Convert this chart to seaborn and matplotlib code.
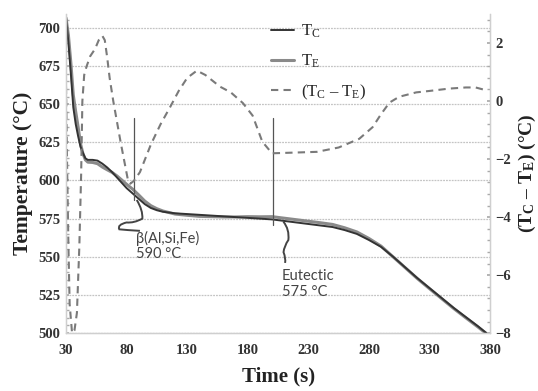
import numpy as np
import pandas as pd
import seaborn as sns
import matplotlib.pyplot as plt
from matplotlib.path import Path
from matplotlib.patches import PathPatch
from matplotlib.ticker import MultipleLocator

# cooling curves (time in s, temperature in degC)
time_s = [30, 32, 34, 36, 38, 40, 42, 44, 46, 48, 52, 56, 60, 64, 68, 72, 76, 80, 85, 90,
          95, 100, 105, 110, 120, 130, 140, 150, 160, 170, 180, 190, 200, 210, 220, 230,
          240, 250, 260, 270, 280, 290, 300, 310, 320, 330, 340, 350, 360, 370, 377]
t_c = [707, 690, 670, 648, 637, 629, 622, 618, 614.5, 613.5, 613.5, 613, 611, 608.5, 605.5,
       602, 598.5, 595, 591.5, 588, 584.5, 582, 580.5, 579.5, 578.5, 578, 577.5, 577, 576.5,
       576, 575.5, 575, 574.5, 573.5, 572.5, 571.5, 570.5, 569.5, 567.5, 565, 561, 556.5,
       550, 543, 536, 529.5, 523, 516.5, 510.5, 504.5, 500]
t_e = [706.5, 695, 677, 656, 645, 635, 624, 617.5, 613.5, 612, 611.8, 611, 608.8, 607, 605.3,
       603, 600.3, 597.5, 594.3, 590.5, 586.5, 583.5, 581.5, 580, 578, 577.2, 576.5, 576.3,
       576.1, 576.1, 576.3, 576.2, 576.3, 575.3, 574.3, 573.3, 572.3, 571.2, 569, 566.3, 562,
       557, 549.9, 542.8, 535.7, 529.1, 522.6, 516.1, 510, 504, 499.6]

# difference curve (T_C - T_E)
diff_time = [30, 31, 32, 33, 35, 37, 39, 41, 42.5, 43.5, 45, 47, 50, 54, 57, 60, 62, 64, 66,
             69, 75, 81, 83, 86, 91, 100, 108, 116, 123, 130, 138, 145, 157, 166, 176, 184,
             192, 200, 215, 237, 255, 272, 283, 290, 297, 305, 319, 330, 346, 360, 368, 377]
diff = [0.5, -2.5, -5.0, -7.0, -8.0, -7.9, -7.3, -5.0, -2.5, 0.0, 0.9, 1.2, 1.55, 1.8, 2.1,
        2.25, 2.1, 1.5, 0.8, 0.0, -1.4, -2.7, -2.85, -2.75, -2.45, -1.5, -0.8, -0.2, 0.35,
        0.8, 1.05, 0.9, 0.5, 0.3, -0.07, -0.5, -1.4, -1.8, -1.78, -1.75, -1.6, -1.3, -0.9,
        -0.45, -0.05, 0.15, 0.3, 0.35, 0.43, 0.47, 0.47, 0.37]

curves = pd.DataFrame({"time": time_s, "T_C": t_c, "T_E": t_e})
dcurve = pd.DataFrame({"time": diff_time, "diff": diff})

# annotations: (x, y) in data units
beta_line = ([86, 86], [641, 587])
beta_curl = [(88.4, 587.2), (93.5, 580.5), (93, 575), (86, 572), (80, 572.5), (72, 571),
             (74, 568), (80, 567.5), (91, 567)]
eut_line = ([201, 201], [641, 571])
eut_curl = [(209.4, 573), (214.5, 568), (213.5, 561), (210, 557), (209.5, 553), (211.5, 549),
            (210.8, 546)]

sns.set_theme(style="white")
plt.rcParams["font.family"] = ["Liberation Serif", "DejaVu Serif"]
plt.rcParams["mathtext.fontset"] = "custom"
plt.rcParams["mathtext.rm"] = "Liberation Serif"
plt.rcParams["mathtext.it"] = "Liberation Serif:italic"
plt.rcParams["mathtext.bf"] = "Liberation Serif:bold"

fig = plt.figure(figsize=(5.38, 3.91), dpi=100)
ax = fig.add_axes([0.1227, 0.148, 0.7883, 0.816])
ax2 = ax.twinx()

grid_c = "#c4c4c4"
for y in range(500, 701, 25):
    ax.axhline(y, color=grid_c, lw=0.9, ls=(0, (1.5, 0.8)), zorder=0)

sns.lineplot(data=curves, x="time", y="T_E", ax=ax, color="#8a8a8a", lw=2.2, label=r"T$_{\rm E}$")
sns.lineplot(data=curves, x="time", y="T_C", ax=ax, color="#333333", lw=1.4, label=r"T$_{\rm C}$")
sns.lineplot(data=dcurve, x="time", y="diff", ax=ax2, color="#7a7a7a", lw=1.5,
             ls=(0, (3.5, 2.5)), label=r"(T$_{\rm C}$ – T$_{\rm E}$)")

ax.set_xlim(30, 380)
ax.set_ylim(500, 709)
ax2.set_ylim(-8, 3)
ax.set_xticks(range(30, 381, 50))
ax.set_yticks(range(500, 701, 25))
ax2.set_yticks([-8, -6, -4, -2, 0, 2])
ax.yaxis.set_minor_locator(MultipleLocator(5))
ax2.yaxis.set_minor_locator(MultipleLocator(0.4))

for lab in ax.get_xticklabels() + ax.get_yticklabels() + ax2.get_yticklabels():
    lab.set_fontweight("bold")
    lab.set_fontsize(10.5)
    lab.set_color("#333333")
ax.tick_params(axis="x", length=3, color="#aaaaaa", pad=8, direction="in")
ax.tick_params(axis="y", which="both", length=2.5, color="#aaaaaa", pad=4, direction="in")
ax2.tick_params(axis="y", which="both", length=2.5, color="#aaaaaa", pad=4, direction="in")

ax.set_xlabel("Time (s)", fontsize=15, fontweight="bold", color="#222222", labelpad=7)
ax.set_ylabel("Temperature (°C)", fontsize=15.5, fontweight="bold", color="#222222", labelpad=4)
ax2.set_ylabel(r"(T$_{\mathbf{C}}$ – T$_{\mathbf{E}}$) (°C)", fontsize=14,
               fontweight="bold", color="#222222", labelpad=4)

for a in (ax, ax2):
    a.spines["top"].set_visible(False)
    for s in ("left", "right", "bottom"):
        a.spines[s].set_color("#cfcfcf")
        a.spines[s].set_linewidth(0.9)

# annotations
ax.plot(*beta_line, color="#555555", lw=0.9)
ax.plot(*eut_line, color="#555555", lw=0.9)
for pts in (beta_curl, eut_curl):
    codes = [Path.MOVETO] + [Path.CURVE3] * (len(pts) - 1)
    if len(codes) % 2 == 0:
        codes[-1] = Path.LINETO
    ax.add_patch(PathPatch(Path(pts, codes), fc="none", ec="#444444", lw=1.4))
note_font = dict(fontsize=10.5, color="#444444", family=["Lato", "DejaVu Sans"])
ax.text(88, 557, "β(Al,Si,Fe)\n590 °C", va="center", ha="left", linespacing=1.15, **note_font)
ax.text(208, 532, "Eutectic\n575 °C", va="center", ha="left", linespacing=1.15, **note_font)

# legend
h1, l1 = ax.get_legend_handles_labels()
h2, l2 = ax2.get_legend_handles_labels()
ax.get_legend().remove()
ax2.get_legend().remove()
handles = [h1[1], h1[0], h2[0]]
labels = [l1[1], l1[0], l2[0]]
fig.legend(handles, labels, loc="upper left", bbox_to_anchor=(0.475, 0.98), frameon=False,
           fontsize=12, labelspacing=0.75, handlelength=1.4, handletextpad=0.4)

fig.savefig("out.png", dpi=100)
